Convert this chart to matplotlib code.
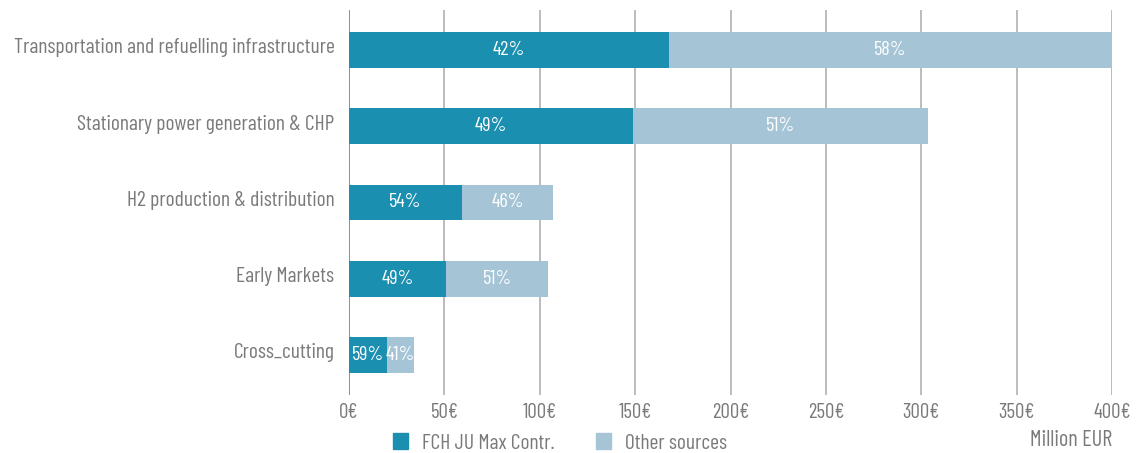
import matplotlib.pyplot as plt
import matplotlib.transforms as mtrans
import numpy as np
from matplotlib.patches import Patch

plt.rcParams['font.family'] = ['Barlow Condensed', 'Roboto Condensed',
                               'Open Sans Condensed', 'DejaVu Sans']

# datos (millones EUR)
categories = ['Transportation and refuelling infrastructure',
              'Stationary power generation & CHP',
              'H2 production & distribution',
              'Early Markets',
              'Cross_cutting']
fch = [167.8, 148.9, 59.2, 50.9, 19.9]
other = [231.8, 154.6, 47.8, 53.4, 14.2]
fch_pct = ['42%', '49%', '54%', '49%', '59%']
other_pct = ['58%', '51%', '46%', '51%', '41%']
xticks = [0, 50, 100, 150, 200, 250, 300, 350, 400]

c_fch = '#1a8fb0'
c_oth = '#a5c5d6'
grey = '#7a7a7a'

fig = plt.figure(figsize=(11.42, 4.53), dpi=100)
ax = fig.add_axes([349/1142, 1-395/453, (1112-349)/1142, (395-10)/453])

y = np.arange(len(categories))
ax.barh(y, fch, height=0.47, color=c_fch, zorder=3)
ax.barh(y, other, left=fch, height=0.47, color=c_oth, zorder=3)

for i in range(len(categories)):
    ax.text(fch[i]/2, y[i], fch_pct[i], ha='center', va='center',
            color='white', fontsize=14.5, zorder=4)
    ax.text(fch[i] + other[i]/2, y[i], other_pct[i], ha='center', va='center',
            color='white', fontsize=14.5, zorder=4)

ax.set_ylim(4.525, -0.525)
ax.set_xlim(0, 400)
ax.set_yticks(y)
ax.set_yticklabels(categories, fontsize=15.5, color=grey)
ax.set_xticks(xticks)
ax.set_xticklabels([f'{v}€' for v in xticks], fontsize=15, color=grey)
ax.tick_params(length=0, pad=6)
ax.tick_params(axis='y', pad=10.5)
# subir un poco las etiquetas de categoria
shift = mtrans.ScaledTranslation(0, 3/72, fig.dpi_scale_trans)
for lbl in ax.get_yticklabels():
    lbl.set_transform(lbl.get_transform() + shift)
for s in ax.spines.values():
    s.set_visible(False)
ax.grid(axis='x', color='#b0b0b0', linewidth=1.2, zorder=0)
ax.axvline(0, color='#8a8a8a', linewidth=1.2, zorder=2)

ax.text(1.0, -0.09, 'Million EUR', transform=ax.transAxes, ha='right', va='top',
        fontsize=16, color=grey)

handles = [Patch(color=c_fch, label='FCH JU Max Contr.'),
           Patch(color=c_oth, label='Other sources')]
fig.legend(handles=handles, loc='center', bbox_to_anchor=(560/1142, 1-443/453),
           ncol=2, frameon=False, fontsize=15.5, labelcolor=grey,
           handlelength=0.7, handleheight=0.7, columnspacing=1.9,
           handletextpad=0.65)

fig.savefig('out.png', dpi=100)
